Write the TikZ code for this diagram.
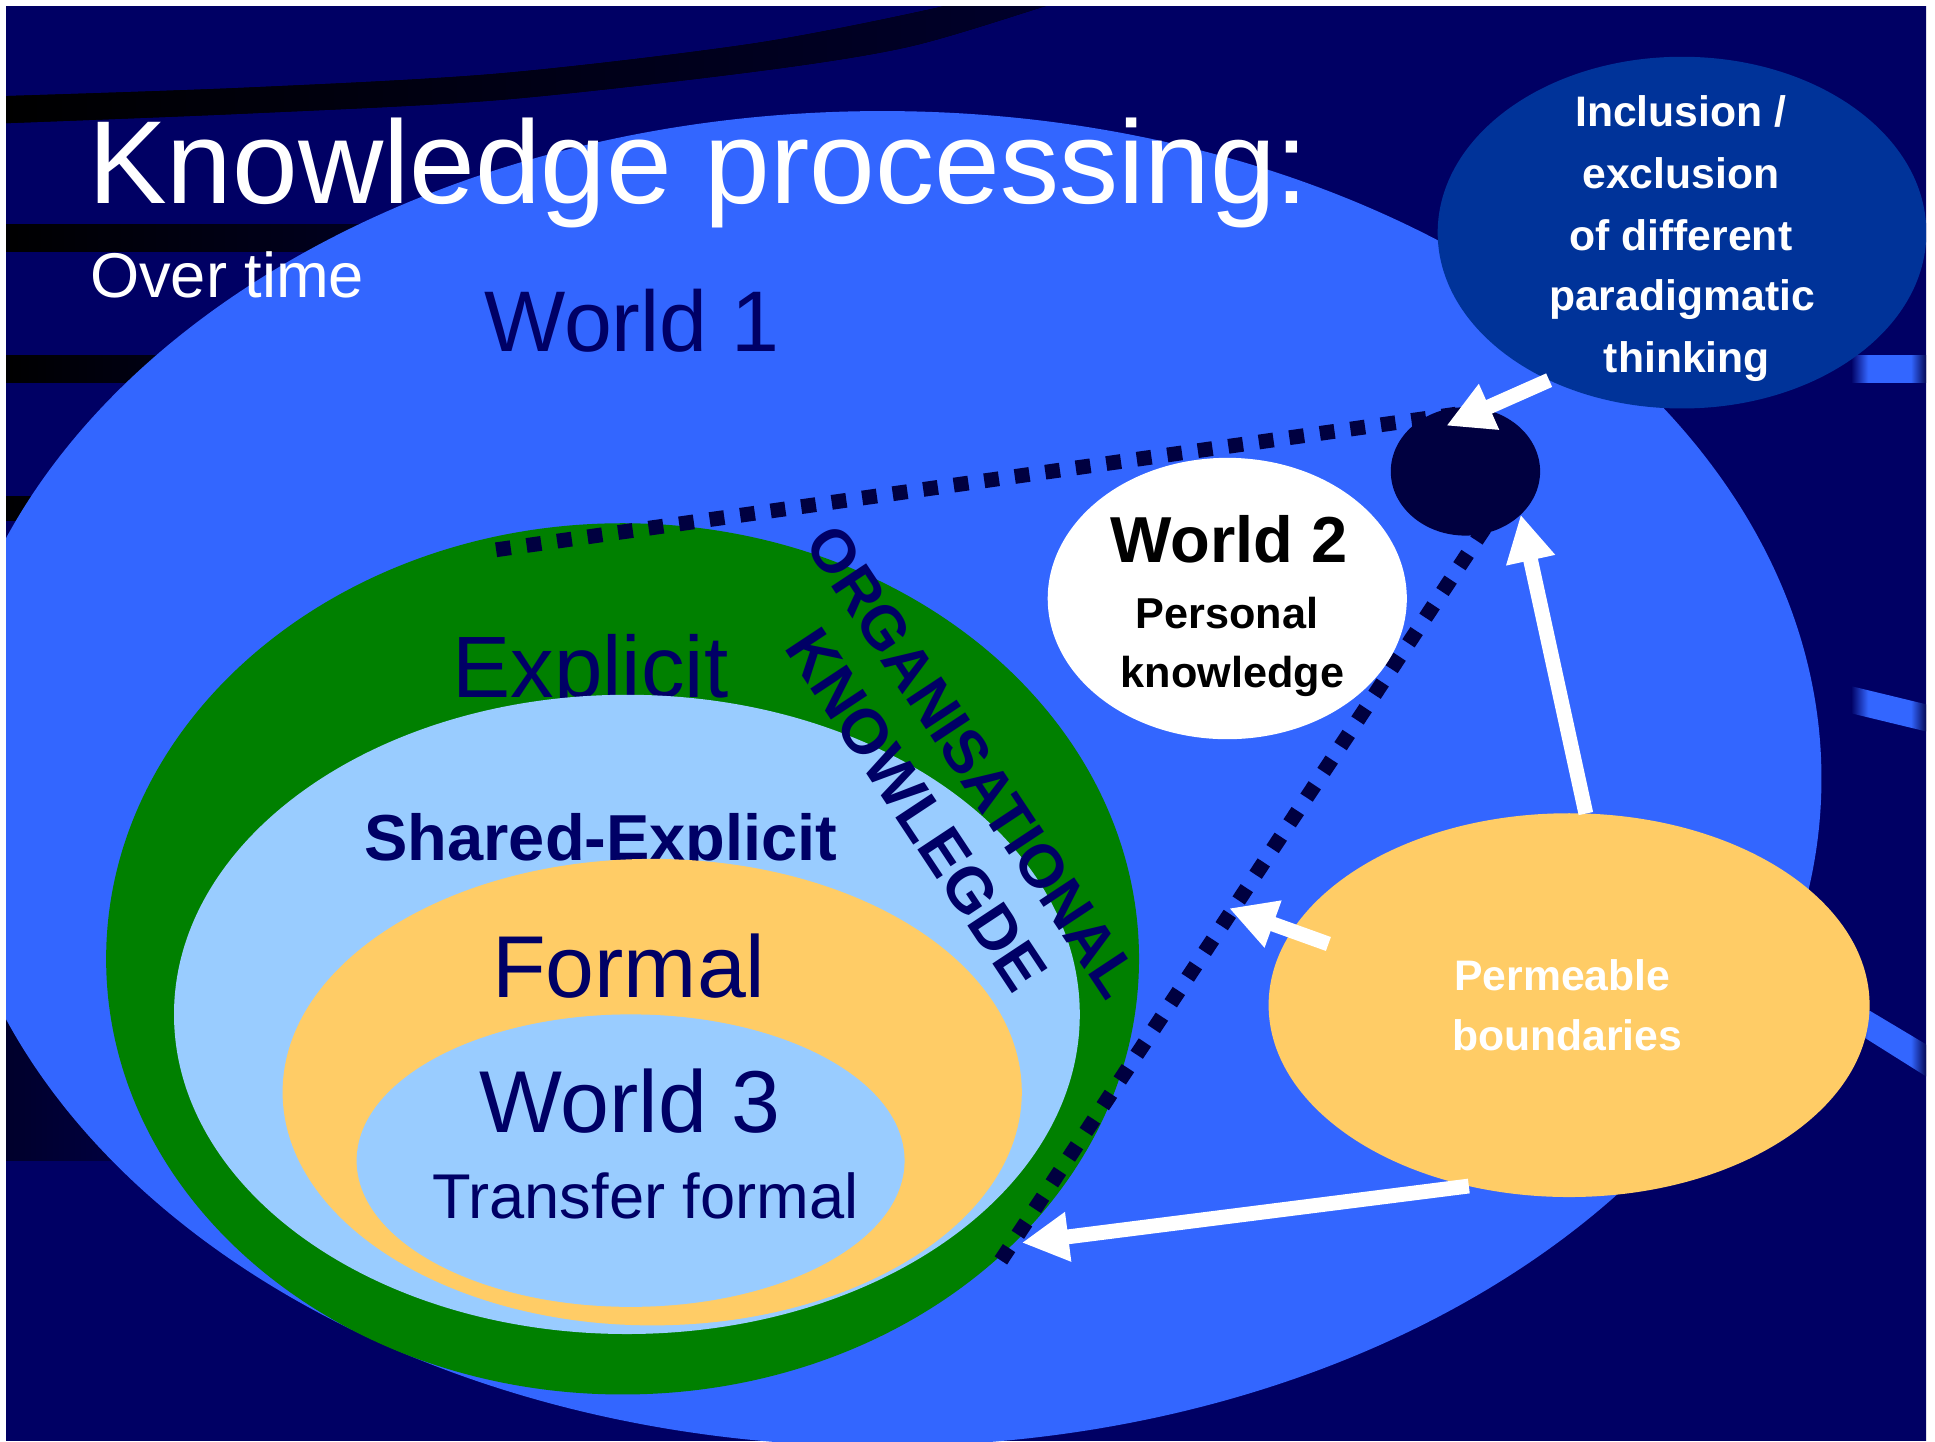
\documentclass[tikz,border=0pt]{standalone}
\usepackage{fontspec}
\setmainfont{Liberation Sans}
\usetikzlibrary{arrows.meta,shapes.geometric}
\definecolor{bgc}{RGB}{0,0,100}
\definecolor{bandc}{RGB}{0,0,45}
\definecolor{bandd}{RGB}{0,0,42}
\definecolor{bgdark}{RGB}{0,0,70}
\definecolor{wone}{RGB}{51,102,255}
\definecolor{incl}{RGB}{0,51,153}
\definecolor{darkc}{RGB}{0,0,64}
\definecolor{grn}{RGB}{0,128,0}
\definecolor{lblue}{RGB}{153,204,255}
\definecolor{orng}{RGB}{255,204,102}
\definecolor{navytxt}{RGB}{0,0,102}
\pgfdeclarehorizontalshading{swoosh}{100bp}{color(0bp)=(bgc); color(25bp)=(bgc); color(36bp)=(wone); color(64bp)=(wone); color(75bp)=(bgdark); color(100bp)=(bgdark)}
\def\U{0.012341cm}
\tikzset{
  ell/.style={ellipse, draw=none, inner sep=0pt, outer sep=0pt},
  lbl/.style={inner sep=0pt, outer sep=0pt, anchor=base},
  dotline/.style={draw=darkc, line width=4.21pt, dash pattern=on 4.21pt off 4.56pt},
  arr/.style={draw=white, line width=4.21pt, -{Triangle[length=13.3pt,width=13.3pt]}},
  band/.style={left color=black, right color=bandc},
  big/.style={font=\fontsize{25pt}{30pt}\selectfont, text=navytxt},
  inc/.style={lbl, text=white, font=\bfseries\fontsize{12.15pt}{15pt}\selectfont},
}
\begin{document}
\begin{tikzpicture}[x=0.012341cm, y=-0.012341cm]
\useasboundingbox (0,0) rectangle (1568,1168);
\fill[white] (0,0) rectangle (1568,1168);
\begin{scope}
\clip (4.9,4.9) rectangle (1560.7,1168);
\fill[bgc] (0,0) rectangle (1568,1168);
% background bands
\fill[band] plot[smooth] coordinates {(0,78) (200,71) (405,59.5) (612,35) (765,5) (810,-10)}
  -- plot[smooth] coordinates {(900,-12) (847,5) (736,38) (612,58) (405,81) (200,92) (0,100)} -- cycle;
\fill[band] (0,182) rectangle (420,204);
\fill[band] (0,288) rectangle (300,310);
\fill[band] (0,402) rectangle (200,422);
\fill[left color=bandd, right color=bgc] (0,800) rectangle (260,940);
% right swooshes
\shade[shading=swoosh] (1500,288) -- (1562,288) -- (1562,310) -- (1500,310) -- cycle;
\shade[shading=swoosh] (1500,556) -- (1562,571) -- (1562,593) -- (1500,578) -- cycle;
\shade[shading=swoosh] (1500,810) -- (1562,847) -- (1562,873) -- (1500,834) -- cycle;
% World 1
\node[ell, fill=wone, minimum width=1522*\U, minimum height=1082*\U] (w1) at (715,631) {};
\node[ell, fill=incl, minimum width=396*\U, minimum height=285*\U] (incl) at (1363,188.5) {};
\node[lbl, text=white, font=\fontsize{33.6pt}{40pt}\selectfont] (title) at (566,164.5) {Knowledge processing:};
\node[lbl, text=white, font=\fontsize{18pt}{22pt}\selectfont] (over) at (184,241) {Over time};
\node[lbl, font=\fontsize{24.5pt}{30pt}\selectfont, text=navytxt] (w1t) at (512,285) {World 1};
% nested ellipses
\node[ell, fill=grn, minimum width=837*\U, minimum height=706*\U] (green) at (504.5,777) {};
\node[lbl, font=\fontsize{24.8pt}{30pt}\selectfont, text=navytxt] (expl) at (478.5,565.5) {Explicit};
\node[ell, fill=lblue, minimum width=734*\U, minimum height=518*\U] (shared) at (508,822) {};
\node[lbl, font=\bfseries\fontsize{18.5pt}{22pt}\selectfont, text=navytxt] (sharedt) at (487,697) {Shared-Explicit};
\node[ell, fill=orng, minimum width=599*\U, minimum height=378*\U] (formal) at (528.5,885) {};
\node[lbl, big] (formalt) at (509.5,808) {Formal};
\node[ell, fill=lblue, minimum width=444*\U, minimum height=237*\U] (w3) at (511,940.5) {};
\node[lbl, big] (w3t) at (510.5,918) {World 3};
\node[lbl, font=\fontsize{18pt}{22pt}\selectfont, text=navytxt] (trans) at (523,987.5) {Transfer formal};
% organisational knowledge
\node[rotate=-56.5, inner sep=0pt, text=navytxt, font=\bfseries\fontsize{17.3pt}{20pt}\selectfont] (org1) at (788,617) {ORGANISATIONAL};
\node[rotate=-56.5, inner sep=0pt, text=navytxt, font=\bfseries\fontsize{18pt}{20pt}\selectfont] (org2) at (743,656) {KNOWLEGDE};
% dotted boundaries
\coordinate (d1s) at (402,445.5);
\coordinate (d1e) at (1180,335.6);
\coordinate (d2s) at (1203,428);
\coordinate (d2e) at (810,1023);
\draw[dotline] (d1s) -- (d1e);
\node[ell, fill=darkc, minimum width=121*\U, minimum height=104*\U] (dark) at (1187.5,382) {};
\draw[dotline] (d2s) -- (d2e);
% World 2
\node[ell, fill=white, minimum width=291*\U, minimum height=228*\U] (w2) at (994.5,485) {};
\node[lbl, font=\bfseries\fontsize{18.5pt}{22pt}\selectfont] (w2t) at (996,456) {World 2};
\node[lbl, font=\bfseries\fontsize{12.3pt}{15pt}\selectfont] (pers) at (994.4,509.5) {Personal};
\node[lbl, font=\bfseries\fontsize{12.3pt}{15pt}\selectfont] (know) at (998.8,557.5) {knowledge};
% Permeable
\node[ell, fill=orng, minimum width=487*\U, minimum height=311*\U] (perm) at (1271.5,814.5) {};
\node[inc] (perm1) at (1266,802.7) {Permeable};
\node[inc] (perm2) at (1270,851) {boundaries};
% Inclusion text
\node[inc] (inc1) at (1362,102.5) {Inclusion /};
\node[inc] (inc2) at (1362,152.5) {exclusion};
\node[inc] (inc3) at (1362,203) {of different};
\node[inc] (inc4) at (1363,251.5) {paradigmatic};
\node[inc] (inc5) at (1367,301.5) {thinking};
% arrows
\coordinate (tA) at (1172,345);
\coordinate (tC) at (996,736);
\coordinate (tD) at (828,1007);
\draw[arr] (incl.228) -- (tA);
\draw[arr] (perm.85.7) -- (dark.-38.2);
\draw[arr, shorten <=-11pt] (perm.165.5) -- (tC);
\draw[arr] (perm.241.8) -- (tD);
\end{scope}
\end{tikzpicture}
\end{document}
